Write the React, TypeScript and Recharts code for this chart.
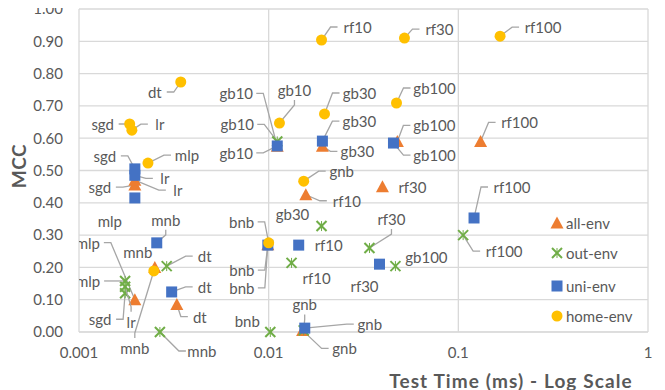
import React from 'react';
import { ScatterChart, Scatter, XAxis, YAxis, CartesianGrid, Legend } from 'recharts';

// model names, same order in every series
const models = ['sgd', 'lr', 'mlp', 'mnb', 'dt', 'gb10', 'gb30', 'gb100', 'rf10', 'rf30', 'rf100', 'gnb', 'bnb'];

const allEnvTime = [0.00197, 0.00197, 0.00197, 0.00251, 0.00328, 0.0111, 0.0192, 0.0477, 0.0157, 0.0398, 0.131, 0.0151, 0.0099];
const allEnvMcc = [0.455, 0.47, 0.1, 0.2, 0.085, 0.575, 0.575, 0.59, 0.425, 0.45, 0.59, 0.005, 0.27];

const outEnvTime = [0.00175, 0.00175, 0.00175, 0.00267, 0.0029, 0.0111, 0.019, 0.0466, 0.0132, 0.034, 0.106, 0.0153, 0.0102];
const outEnvMcc = [0.12, 0.14, 0.158, 0.0, 0.204, 0.59, 0.328, 0.204, 0.214, 0.26, 0.3, 0.005, 0.0];

const uniEnvTime = [0.00197, 0.00197, 0.00197, 0.00257, 0.00308, 0.0111, 0.0192, 0.0455, 0.0144, 0.0384, 0.121, 0.0155, 0.0099];
const uniEnvMcc = [0.505, 0.485, 0.415, 0.276, 0.124, 0.576, 0.591, 0.585, 0.269, 0.21, 0.353, 0.012, 0.269];

const homeEnvTime = [0.00185, 0.0019, 0.00231, 0.00248, 0.00344, 0.0114, 0.0197, 0.0472, 0.019, 0.052, 0.166, 0.0153, 0.01];
const homeEnvMcc = [0.644, 0.625, 0.523, 0.189, 0.774, 0.647, 0.675, 0.709, 0.904, 0.91, 0.916, 0.467, 0.276];

const xTicks = [0.001, 0.01, 0.1, 1];
const yTicks = [0, 0.1, 0.2, 0.3, 0.4, 0.5, 0.6, 0.7, 0.8, 0.9, 1];

// data label placement: [dx, dy, leader] (leader 0 none, 1 from side, 2 from top/bottom)
type Lbl = [number, number, number];
const allEnvLabels: Record<string, Lbl> = {
  sgd: [-35, 2, 1], lr: [43, 10, 1], mlp: [-47, -57, 1], mnb: [-17, -15, 0], dt: [23, 12, 1],
  gb10: [-41, -53, 1], gb30: [35, 5, 1], gb100: [37, -16, 1], rf10: [41, 6, 1], rf30: [30, 0, 0],
  rf100: [39, -19, 1], gnb: [42, 18, 1], bnb: [-26, 43, 1],
};
const outEnvLabels: Record<string, Lbl> = {
  sgd: [-25, 26, 1], lr: [6, 35, 2], mlp: [-37, 0, 1], mnb: [42, 19, 1], dt: [38, -10, 1],
  gb10: [-40, -17, 1], gb30: [-29, -12, 0], gb100: [31, -9, 0], rf10: [25, 15, 0], rf30: [22, -29, 2],
  rf100: [41, 16, 1], gnb: [1, -26, 2], bnb: [-23, -11, 0],
};
const uniEnvLabels: Record<string, Lbl> = {
  sgd: [-30, -13, 1], lr: [30, 3, 1], mlp: [-25, 23, 0], mnb: [9, -23, 2], dt: [33, -5, 1],
  gb10: [-41, 7, 1], gb30: [37, -20, 1], gb100: [41, 12, 1], rf10: [30, 0, 0], rf30: [-15, 22, 0],
  rf100: [38, -31, 1], gnb: [65, -4, 1], bnb: [-26, 25, 1],
};
const homeEnvLabels: Record<string, Lbl> = {
  sgd: [-27, 0, 1], lr: [28, -6, 1], mlp: [39, -8, 1], mnb: [-19, 77, 2], dt: [-26, 10, 1],
  gb10: [15, -33, 2], gb30: [35, -21, 1], gb100: [38, -15, 1], rf10: [36, -13, 1], rf30: [35, -9, 1],
  rf100: [43, -9, 1], gnb: [38, -10, 1], bnb: [-27, -21, 1],
};

const toPoints = (time: number[], mcc: number[]) =>
  models.map((name, i) => ({ name, x: time[i], y: mcc[i] }));

const FONT = 'Lato, "Open Sans", sans-serif';
const TEXT = '#595959';
const GRID = '#d9d9d9';
const LEADER = '#a6a6a6';

const Marker = ({ kind, cx, cy, color }: { kind: string; cx: number; cy: number; color: string }) => {
  if (kind === 'triangle')
    return <polygon points={`${cx},${cy - 6.5} ${cx + 6.5},${cy + 5.5} ${cx - 6.5},${cy + 5.5}`} fill={color} />;
  if (kind === 'square') return <rect x={cx - 5.5} y={cy - 5.5} width={11} height={11} fill={color} />;
  if (kind === 'star')
    return (
      <g stroke={color} strokeWidth={2}>
        <line x1={cx - 5} y1={cy - 5} x2={cx + 5} y2={cy + 5} />
        <line x1={cx - 5} y1={cy + 5} x2={cx + 5} y2={cy - 5} />
        <line x1={cx} y1={cy - 5} x2={cx} y2={cy + 5} strokeWidth={1} />
      </g>
    );
  return <circle cx={cx} cy={cy} r={5.5} fill={color} />;
};

const makeShape = (kind: string, color: string, labels: Record<string, Lbl>) => (props: any) => {
  const { cx, cy, payload } = props;
  const [dx, dy, leader] = labels[payload.name] ?? [0, 0, 0];
  const tx = cx + dx;
  const ty = cy + dy;
  const halfW = payload.name.length * 4 + 2;
  let pts = '';
  if (leader === 1) {
    const sx = tx - Math.sign(dx) * (halfW + 2);
    const bx = sx - Math.sign(dx) * 7;
    pts = `${sx},${ty} ${bx},${ty} ${cx},${cy}`;
  } else if (leader === 2) {
    const sy = ty - Math.sign(dy) * 10;
    pts = `${tx},${sy} ${tx},${sy - Math.sign(dy) * 5} ${cx},${cy}`;
  }
  return (
    <g>
      {pts && <polyline points={pts} fill="none" stroke={LEADER} strokeWidth={1.3} />}
      <Marker kind={kind} cx={cx} cy={cy} color={color} />
      <text x={tx} y={ty} textAnchor="middle" dominantBaseline="central" fontFamily={FONT} fontSize={15} fill={TEXT}>
        {payload.name}
      </text>
    </g>
  );
};

const series = [
  { name: 'all-env', kind: 'triangle', color: '#ED7D31', data: toPoints(allEnvTime, allEnvMcc), labels: allEnvLabels },
  { name: 'out-env', kind: 'star', color: '#70AD47', data: toPoints(outEnvTime, outEnvMcc), labels: outEnvLabels },
  { name: 'uni-env', kind: 'square', color: '#4472C4', data: toPoints(uniEnvTime, uniEnvMcc), labels: uniEnvLabels },
  { name: 'home-env', kind: 'circle', color: '#FFC000', data: toPoints(homeEnvTime, homeEnvMcc), labels: homeEnvLabels },
];

const legendRows = [15, 45, 78, 108];

const LegendBox = () => (
  <svg width={110} height={125}>
    {series.map((s, i) => (
      <g key={s.name}>
        <Marker kind={s.kind} cx={9} cy={legendRows[i]} color={s.color} />
        <text x={18} y={legendRows[i]} dominantBaseline="central" fontFamily={FONT} fontSize={15} fill={TEXT}>
          {s.name}
        </text>
      </g>
    ))}
  </svg>
);

const XTick = (p: any) => (
  <text x={p.x} y={p.y + 8} textAnchor="middle" dominantBaseline="central" fontFamily={FONT} fontSize={15} fill={TEXT}>
    {String(p.payload.value)}
  </text>
);

export default function App() {
  return (
    <div style={{ marginTop: -8, marginLeft: -8 }}>
      <ScatterChart width={665} height={390} margin={{ top: 9, right: 17, left: 0, bottom: 0 }}>
        <CartesianGrid stroke={GRID} strokeWidth={1.3} />
        <XAxis
          type="number"
          dataKey="x"
          scale="log"
          domain={[0.001, 1]}
          ticks={xTicks}
          interval={0}
          allowDataOverflow
          height={58}
          tickLine={false}
          tickSize={0}
          tickMargin={12}
          axisLine={{ stroke: GRID }}
          tick={<XTick />}
          label={{
            content: () => (
              <text x={511} y={380} textAnchor="middle" dominantBaseline="central" fontFamily={FONT} fontWeight="bold" fontSize={19} letterSpacing={1.1} fill={TEXT}>
                Test Time (ms) - Log Scale
              </text>
            ),
          }}
        />
        <YAxis
          type="number"
          dataKey="y"
          domain={[0, 1]}
          ticks={yTicks}
          interval={0}
          width={79}
          axisLine={false}
          tickLine={false}
          tickSize={0}
          tickMargin={16}
          tick={{ fill: TEXT, fontSize: 15, fontFamily: FONT }}
          tickFormatter={(v: number) => v.toFixed(2)}
          label={{
            content: () => (
              <text x={18} y={166} transform="rotate(-90 18 166)" textAnchor="middle" dominantBaseline="central" fontFamily={FONT} fontWeight="bold" fontSize={19} letterSpacing={0.5} fill={TEXT}>
                MCC
              </text>
            ),
          }}
        />
        {series.map((s) => (
          <Scatter
            key={s.name}
            name={s.name}
            data={s.data}
            fill={s.color}
            isAnimationActive={false}
            shape={makeShape(s.kind, s.color, s.labels)}
          />
        ))}
        <Legend
          layout="vertical"
          align="center"
          verticalAlign="middle"
          wrapperStyle={{ left: 548, top: 208, width: 110 }}
          content={() => <LegendBox />}
        />
      </ScatterChart>
    </div>
  );
}
